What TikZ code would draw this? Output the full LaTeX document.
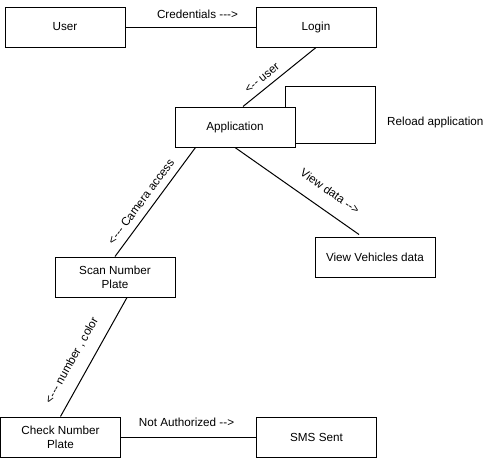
\documentclass[tikz,border=0pt]{standalone}
\usepackage{fontspec}
\newfontfamily\diagfont{Liberation Sans}
\usetikzlibrary{positioning}

\begin{document}
\begin{tikzpicture}[
  x=1pt, y=-1pt,
  node distance=130pt,
  every node/.style={font=\diagfont\fontsize{11.7}{14}\selectfont},
  box/.style={
    draw=black,
    line width=1pt,
    align=center,
    minimum width=120pt,
    minimum height=40pt,
    inner sep=0pt
  },
  lbl/.style={inner sep=1pt},
  link/.style={line width=1pt, draw=black}
]
\useasboundingbox (0,0) rectangle (496,458);

\node[box] (user) at (65,27) {User};
\node[box, right=of user] (login) {Login};
\node[box] (app) at (235,127) {Application};
\node[box] (view) at (375,257) {View Vehicles data};
\node[box] (scan) at (115,277) {Scan Number\\Plate};
\node[box] (check) at (60.5,437) {Check Number\\Plate};
\node[box, right=135pt of check] (sms) {SMS Sent};
\node[lbl, anchor=west] (reload) at (386,122) {Reload application};

\draw[link] (user) -- node[lbl, above=7pt, xshift=7pt] {Credentials --->} (login);
\draw[link] (login.south) -- node[lbl, sloped, above=5pt, pos=0.65] {<-- user} ([xshift=8pt]app.north);
\draw[link] ([xshift=-10pt]app.north east) -- ++(0,-20) -- ++(90,0) |- ([yshift=4pt]app.south east);
\draw[link] ([xshift=21pt]app.south west) -- node[lbl, sloped, above=6pt, pos=0.56] {<--- Camera access} (scan.north);
\draw[link] (app.south) -- node[lbl, sloped, above=13pt, pos=0.68] {View data -->} ([xshift=-16pt, yshift=2pt]view.north);
\draw[link] ([xshift=12pt]scan.south) -- node[lbl, sloped, above=11pt, pos=0.6] {<--- number , color} (check.north);
\draw[link] (check) -- node[lbl, above=9pt, xshift=-2pt] {Not Authorized -->} (sms);
\end{tikzpicture}
\end{document}
